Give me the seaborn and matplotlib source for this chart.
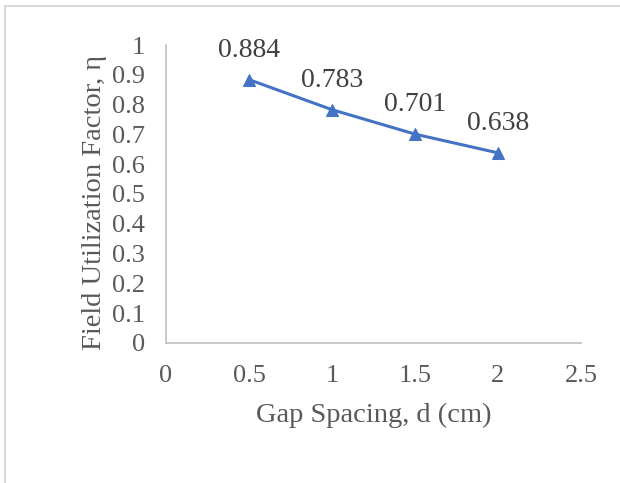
import matplotlib
matplotlib.use("Agg")
import matplotlib.pyplot as plt
import seaborn as sns
import pandas as pd
from matplotlib.patches import Rectangle

gap_spacing = [0.5, 1.0, 1.5, 2.0]
utilization = [0.884, 0.783, 0.701, 0.638]
value_labels = ["0.884", "0.783", "0.701", "0.638"]
x_ticks = [0, 0.5, 1, 1.5, 2, 2.5]
x_tick_labels = ["0", "0.5", "1", "1.5", "2", "2.5"]
y_ticks = [0, 0.1, 0.2, 0.3, 0.4, 0.5, 0.6, 0.7, 0.8, 0.9, 1.0]
y_tick_labels = ["0", "0.1", "0.2", "0.3", "0.4", "0.5", "0.6", "0.7", "0.8", "0.9", "1"]

sns.set_style("white")
plt.rcParams["font.family"] = ["Liberation Serif", "DejaVu Serif"]

df = pd.DataFrame({"d": gap_spacing, "eta": utilization})

fig = plt.figure(figsize=(6.2, 4.83), dpi=100)
ax = fig.add_axes([0.2677, 0.2899, 0.937 - 0.2677, 0.9068 - 0.2899])

blue = "#4472C4"
sns.lineplot(data=df, x="d", y="eta", ax=ax, color=blue, linewidth=2.2,
             marker="^", markersize=8, markeredgecolor=blue, markerfacecolor=blue)

for x, y, t in zip(gap_spacing, utilization, value_labels):
    ax.annotate(t, (x, y), xytext=(0, 12), textcoords="offset points",
                ha="center", va="bottom", fontsize=20, color="#404040")

ax.set_xlim(0, 2.5)
ax.set_ylim(0, 1)
ax.set_xticks(x_ticks)
ax.set_xticklabels(x_tick_labels)
ax.set_yticks(y_ticks)
ax.set_yticklabels(y_tick_labels)
ax.tick_params(axis="both", length=0, labelsize=19, labelcolor="#595959")
ax.tick_params(axis="x", pad=16)
ax.tick_params(axis="y", pad=15)

for s in ["top", "right"]:
    ax.spines[s].set_visible(False)
for s in ["left", "bottom"]:
    ax.spines[s].set_color("#BFBFBF")
    ax.spines[s].set_linewidth(1.2)

ax.set_xlabel("Gap Spacing, d (cm)", fontsize=20.5, color="#595959", labelpad=11)
ax.set_ylabel("Field Utilization Factor, η", fontsize=20.5, color="#595959", labelpad=6)
ax.yaxis.set_label_coords(-0.143, 0.473)

fig.patches.append(Rectangle((5 / 620, -0.1), 1.2, 1.1 - 6 / 483, transform=fig.transFigure,
                             fill=False, edgecolor="#D9D9D9", linewidth=1.5))

fig.savefig("out.png", dpi=100, facecolor="white")
